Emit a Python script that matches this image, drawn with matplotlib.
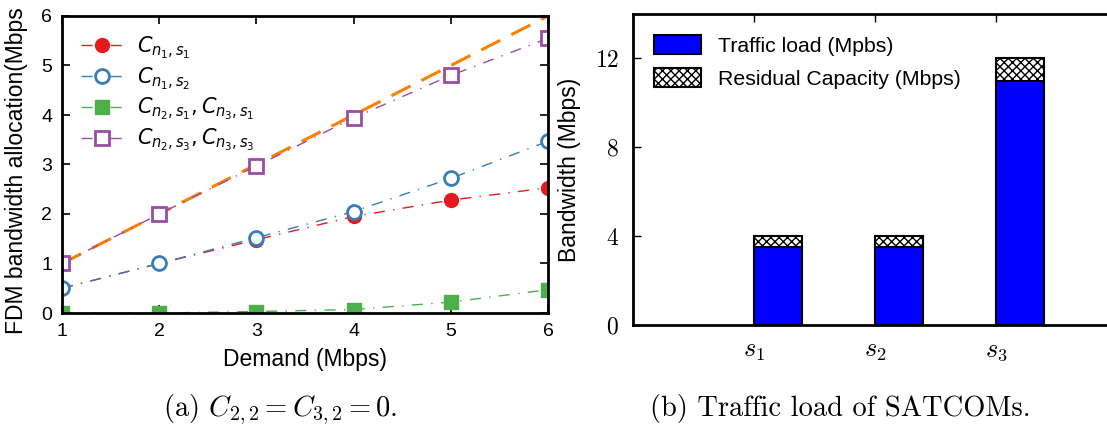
import matplotlib
matplotlib.use("Agg")
import matplotlib.pyplot as plt

plt.rcParams['font.family'] = ['Liberation Sans', 'DejaVu Sans']
plt.rcParams['hatch.linewidth'] = 1.0

# left panel: FDM bandwidth allocation vs demand
demand = [1, 2, 3, 4, 5, 6]
c_n1_s1 = [0.5, 1.0, 1.48, 1.95, 2.28, 2.53]
c_n1_s2 = [0.5, 1.0, 1.52, 2.05, 2.72, 3.47]
c_n2_s1 = [0.0, 0.0, 0.03, 0.07, 0.22, 0.47]
c_n2_s3 = [1.0, 2.0, 2.97, 3.94, 4.80, 5.55]
total = [1, 2, 3, 4, 5, 6]

# right panel: traffic load of SATCOMs
sats = ['$s_1$', '$s_2$', '$s_3$']
sat_pos = [1, 2, 3]
traffic = [3.5, 3.5, 11.0]
residual = [0.5, 0.5, 1.0]

W, H = 1107, 440
fig = plt.figure(figsize=(W / 100, H / 100), dpi=100)

def box(x0, y0, x1, y1):
    return [x0 / W, 1 - y1 / H, (x1 - x0) / W, (y1 - y0) / H]

ax = fig.add_axes(box(62, 16, 548, 313))
red, blue, green, purple, orange = '#e41a1c', '#377eb8', '#4daf4a', '#984ea3', '#ff7f00'
dd = (0, (8, 6, 1, 6))
ax.plot(total, total, '--', color=orange, lw=2.2, dashes=(7, 4))
ax.plot(demand, c_n1_s1, color=red, lw=1, ls=dd, marker='o', ms=10,
        label='$C_{n_1,s_1}$')
ax.plot(demand, c_n1_s2, color=blue, lw=1, ls=dd, marker='o', ms=10,
        mfc='white', mew=2, label='$C_{n_1,s_2}$')
ax.plot(demand, c_n2_s1, color=green, lw=1, ls=dd, marker='s', ms=10,
        label='$C_{n_2,s_1}, C_{n_3,s_1}$')
ax.plot(demand, c_n2_s3, color=purple, lw=1, ls=dd, marker='s', ms=10,
        mfc='white', mew=2, label='$C_{n_2,s_3}, C_{n_3,s_3}$')
ax.set_xlim(1, 6)
ax.set_ylim(0, 6)
ax.tick_params(direction='in', top=True, right=True, labelsize=14, length=6, width=1.2,
               pad=7)
for s in ax.spines.values():
    s.set_linewidth(2)
ax.set_xlabel('Demand (Mbps)', fontsize=16.5, labelpad=6)
# y label anchored at its lower end, it runs up to the top edge as in the source
fig.text(17 / W, 1 - 334 / H, 'FDM bandwidth allocation(Mbps', fontsize=16.5,
         rotation=90, ha='center', va='bottom')
leg = ax.legend(loc='upper left', frameon=False, handlelength=2.0,
                handletextpad=0.7, borderaxespad=0.5, labelspacing=0.22,
                prop={'size': 15, 'math_fontfamily': 'dejavusans'})

# right panel
bx = fig.add_axes(box(633, 14, 1117, 325))
bx.bar(sat_pos, traffic, width=0.4, align='edge', color='#0000ff', edgecolor='black',
       lw=1.5, label='Traffic load (Mpbs)')
bx.bar(sat_pos, residual, width=0.4, align='edge', bottom=traffic, color='white',
       edgecolor='black', lw=1.5, hatch='xxxx', label='Residual Capacity (Mbps)')
bx.set_xlim(0, 4)
bx.set_ylim(0, 14)
bx.set_yticks([0, 4, 8, 12])
bx.set_yticklabels(['$0$', '$4$', '$8$', '$12$'], math_fontfamily='cm', fontsize=17)
bx.set_xticks(sat_pos)
bx.set_xticklabels(sats, math_fontfamily='cm', fontsize=19)
bx.tick_params(direction='in', top=True, bottom=False, length=6, width=1, pad=10)
for s in bx.spines.values():
    s.set_linewidth(2)
bx.spines['right'].set_visible(False)
bx.set_ylabel('Bandwidth (Mbps)', fontsize=16.5, labelpad=10)
bx.legend(loc='upper left', frameon=False, fontsize=15.3, handlelength=2.2,
          handleheight=1.0, borderaxespad=0.6, labelspacing=0.55)

# captions
fig.text(280 / W, 1 - 410 / H, '(a) $C_{2,2} = C_{3,2} = 0$.', family='cmr10',
         math_fontfamily='cm', fontsize=20.5, ha='center', va='center')
fig.text(840 / W, 1 - 408 / H, '(b) Traffic load of SATCOMs.', family='cmr10',
         fontsize=20.5, ha='center', va='center')

fig.savefig('out.png', dpi=100)
